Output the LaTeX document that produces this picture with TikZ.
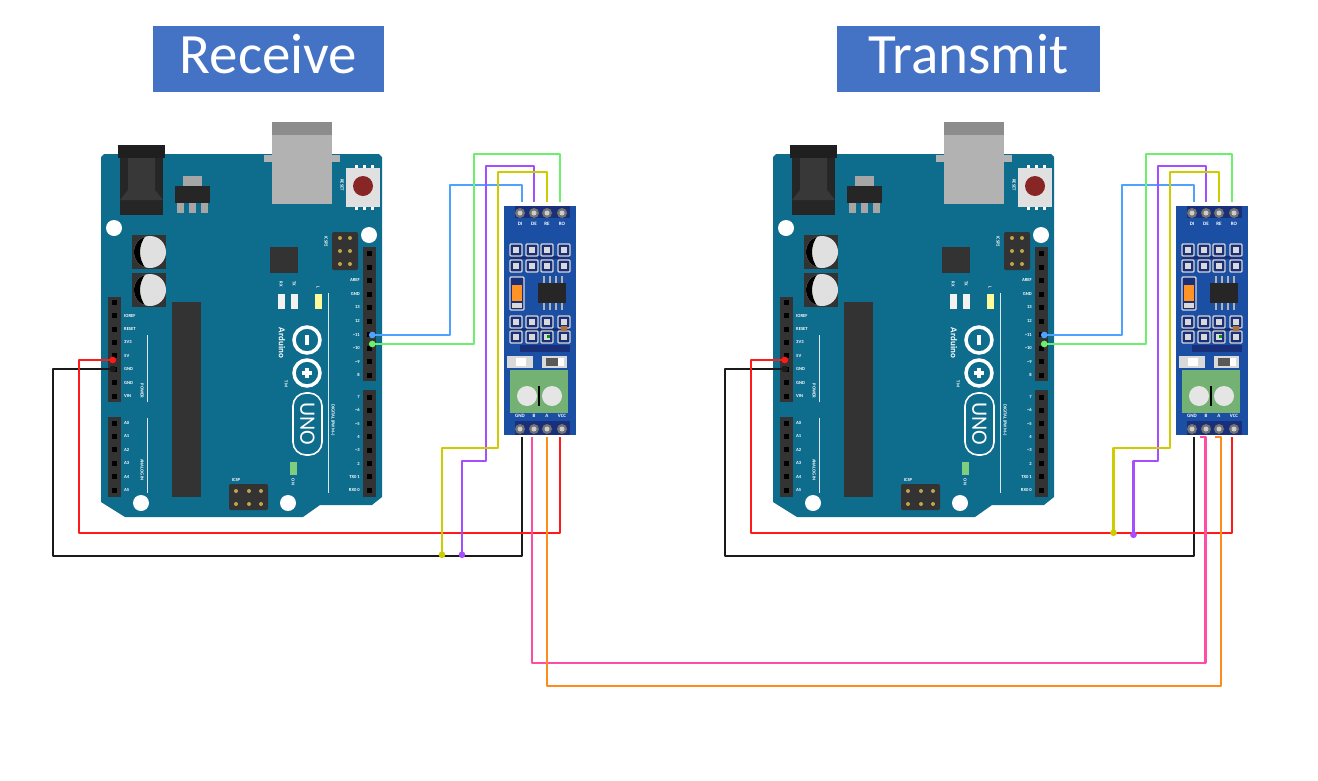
\documentclass[tikz,border=0pt]{standalone}
\usepackage{fontspec}
\setmainfont{Carlito}
\usetikzlibrary{arrows.meta}
\definecolor{boardteal}{HTML}{0E6C8D}
\definecolor{modblue}{HTML}{1B4FA3}
\definecolor{moddark}{HTML}{1A2F7A}
\definecolor{titleblue}{HTML}{4472C4}
\definecolor{headerdark}{HTML}{333333}
\definecolor{wireblue}{HTML}{4DA3FF}
\definecolor{wiregreen}{HTML}{6CF06C}
\definecolor{wirepurple}{HTML}{A64DFF}
\definecolor{wireyellow}{HTML}{CCCC00}
\definecolor{wirered}{HTML}{FF1A1A}
\definecolor{wireblack}{HTML}{1A1A1A}
\definecolor{wirepink}{HTML}{FF4DA6}
\definecolor{wireorange}{HTML}{FF8C1A}
\tikzset{
  title/.style={fill=titleblue, text=white, inner sep=0pt, text height=47pt, text depth=19pt,
    font=\fontsize{57}{60}\selectfont},
  wire/.style={line width=2.2pt, line join=round},
  dotstart/.style={{Circle[length=6.5pt, width=6.5pt]}-},
  dotend/.style={-{Circle[length=6.5pt, width=6.5pt]}},
  tiny/.style={text=white, inner sep=0pt, font=\fontsize{4.6}{5}\selectfont\bfseries},
  tinyl/.style={tiny, anchor=west},
  tinyr/.style={tiny, anchor=east},
  tinyv/.style={tiny, rotate=-90},
  modlabel/.style={text=white, inner sep=0pt, font=\fontsize{5}{5}\selectfont\bfseries},
  pads/.style={fill=moddark, draw=black!15, line width=1.2pt, rounded corners=1pt},
  pics/arduino/.style={code={
    % board
    \fill[boardteal] (104,154) -- (379,154) -- (382,157) -- (382,497) -- (372,505)
      -- (320,505) -- (303,517) -- (125,517) -- (101,502) -- (101,157) -- cycle;
    % power jack
    \fill[black!88] (118,145) rectangle (165,158);
    \fill[black!85] (120,158) rectangle (163,215);
    \fill[black!78] (128,158) -- (155,158) -- (155,190) -- (163,200) -- (120,200) -- (128,190) -- cycle;
    % usb
    \fill[black!30] (264,155) rectangle (340,162);
    \fill[black!30] (272,122) rectangle (332,204);
    \fill[black!45] (272,122) rectangle (332,135);
    % reset button
    \fill[white] (355,165) rectangle (358,210);
    \fill[white] (363,165) rectangle (366,210);
    \fill[white] (371,165) rectangle (374,210);
    \fill[black!12] (346,168) rectangle (380,207);
    \fill[red!45!black!85] (363,186) circle (10);
    \node[tinyv] (-reset) at (342,185) {RESET};
    % regulator
    \fill[black!35] (183,176) rectangle (202,187);
    \fill[black!85] (175,186) rectangle (210,203);
    \fill[black!35] (177,203) rectangle (184,213);
    \fill[black!35] (189,203) rectangle (196,213);
    \fill[black!35] (201,203) rectangle (208,213);
    % holes
    \fill[white] (114,228) circle (8);
    \fill[white] (369,235) circle (8);
    \fill[white] (141,503) circle (8);
    \fill[white] (288,503) circle (8);
    % capacitors
    \foreach \capy in {252,290} {
      \fill[headerdark] (132,\capy-17) rectangle (166,\capy+17);
      \fill[black!12] (150,\capy) circle (16);
      \begin{scope}
        \clip (150,\capy) circle (16);
        \fill[black] (130,\capy-17) -- (146,\capy-17) .. controls (138,\capy-6) and (138,\capy+6) .. (146,\capy+17) -- (130,\capy+17) -- cycle;
      \end{scope}
    }
    % chips
    \fill[headerdark] (270,247) rectangle (298,273);
    \fill[headerdark] (172,302) rectangle (201,497);
    % icsp headers
    \fill[headerdark, rounded corners=2pt] (332,232) rectangle (358,270);
    \foreach \icspy in {238,251,264} {
      \fill[black!30!yellow!50!brown] (340,\icspy) circle (2);
      \fill[black!30!yellow!50!brown] (350,\icspy) circle (2);
    }
    \node[tinyv] (-icsptwo) at (326,242) {ICSP2};
    \fill[headerdark, rounded corners=2pt] (229,484) rectangle (268,510);
    \foreach \icspx in {236,249,261} {
      \fill[black!30!yellow!50!brown] (\icspx,491) circle (2);
      \fill[black!30!yellow!50!brown] (\icspx,504) circle (2);
    }
    \node[tiny] (-icsp) at (236,480) {ICSP};
    % leds
    \fill[black!5] (278,294) rectangle (285,309);
    \fill[black!5] (291,294) rectangle (298,309);
    \fill[yellow!40] (315,294) rectangle (322,309);
    \node[tinyv] (-rx) at (281,284) {RX};
    \node[tinyv] (-tx) at (294,284) {TX};
    \node[tinyv] (-led) at (318,287) {L};
    \fill[green!60!black!50!white] (290,462) rectangle (297,475);
    \node[tinyv] (-on) at (293,482) {ON};
    % logo
    \node[tinyv, font=\fontsize{9}{9}\selectfont\bfseries] (-brand) at (282,343) {Arduino};
    \draw[white, line width=3.5pt] (307,340) circle (13);
    \draw[white, line width=3.5pt] (307,373) circle (13);
    \fill[white] (305,335) rectangle (309,345);
    \fill[white] (302,371) rectangle (312,375);
    \fill[white] (305,368) rectangle (309,378);
    \node[tinyv] (-tm) at (286,384) {TM};
    \draw[white, line width=1.6pt, rounded corners=13pt] (293,393) rectangle (322,455);
    \node[tinyv, font=\fontsize{22}{22}\selectfont] (-uno) at (307.5,424) {UNO};
    % right headers
    \fill[headerdark] (363,247) rectangle (376,381);
    \fill[headerdark] (363,390) rectangle (376,497);
    \foreach \piny in {253.5,267,280.5,294,307.5,321,334.5,348,361.5,375,397,410.3,423.6,436.9,450.2,463.5,476.8,490} {
      \fill[black] (367,\piny-2.5) rectangle (372,\piny+2.5);
    }
    \foreach \pintext/\piny in {AREF/280.5,GND/294,13/307.5,12/321,\textasciitilde11/334.5,\textasciitilde10/348,\textasciitilde9/361.5,8/375,7/397,\textasciitilde6/410.3,\textasciitilde5/423.6,4/436.9,\textasciitilde3/450.2,2/463.5,TX0 1/476.8,RX0 0/490} {
      \node[tinyr] at (360,\piny) {\pintext};
    }
    \draw[white!85!boardteal, line width=1pt] (328,293) -- (328,493);
    \node[tinyv] (-digital) at (333,420) {DIGITAL (PWM\textasciitilde)};
    % left headers
    \fill[headerdark] (108,297) rectangle (121,402);
    \fill[headerdark] (108,417) rectangle (121,497);
    \foreach \piny in {302.2,315.6,329,342.4,355.8,369.2,382.6,396,423,436.4,449.8,463.2,476.6,490} {
      \fill[black] (112,\piny-2.5) rectangle (117,\piny+2.5);
    }
    \foreach \pintext/\piny in {IOREF/315.6,RESET/329,3V3/342.4,5V/355.8,GND/369.2,GND/382.6,VIN/396,A0/423,A1/436.4,A2/449.8,A3/463.2,A4/476.6,A5/490} {
      \node[tinyl] at (124,\piny) {\pintext};
    }
    \draw[white!85!boardteal, line width=1pt] (147,335) -- (147,402);
    \draw[white!85!boardteal, line width=1pt] (147,418) -- (147,493);
    \node[tinyv] (-power) at (142,391) {POWER};
    \node[tinyv] (-analog) at (142,470) {ANALOG IN};
    % wire ends on the headers
    \coordinate (-d11) at (369,335);
    \coordinate (-d10) at (369,344);
    \coordinate (-fivev) at (116,360);
    \coordinate (-gnd) at (116,369);
  }},
  pics/rsmodule/.style={code={
    \fill[modblue] (504,206) rectangle (576,435);
    \fill[moddark] (515,206) rectangle (570,218);
    \fill[moddark] (515,421) rectangle (570,435);
    \foreach \pinx in {520,534,547,562} {
      \fill[black!55] (\pinx,213) circle (5);
      \fill[black!20] (\pinx,213) circle (2.5);
      \fill[black!55] (\pinx,429) circle (5);
      \fill[black!20] (\pinx,429) circle (2.5);
    }
    \node[modlabel] (-tdi) at (520,224) {DI};
    \node[modlabel] (-tde) at (534,224) {DE};
    \node[modlabel] (-tre) at (547,224) {RE};
    \node[modlabel] (-tro) at (562,224) {RO};
    \node[modlabel] (-tgnd) at (520,416) {GND};
    \node[modlabel] (-tb) at (534,416) {B};
    \node[modlabel] (-ta) at (547,416) {A};
    \node[modlabel] (-tvcc) at (562,416) {VCC};
    % resistors, upper and lower blocks
    \fill[moddark] (510,256) rectangle (570,259);
    \fill[moddark] (510,328) rectangle (570,331);
    \foreach \padx in {516,532,547,564} {
      \foreach \pady in {250,266,322,337} {
        \draw[pads] (\padx-6,\pady-6) rectangle (\padx+6,\pady+6);
        \fill[white!85!black] (\padx-3,\pady-3) rectangle (\padx+3,\pady+3);
      }
    }
    \fill[green!60!black] (547,335) rectangle (550,338);
    \fill[brown!90!black] (561,326) rectangle (567,331);
    % capacitor and driver chip
    \draw[pads] (510,277) rectangle (524,310);
    \fill[orange!85] (512,285) rectangle (522,301);
    \fill[white!85!black] (512,303) rectangle (522,308);
    \foreach \legx in {544,550,556,562} {
      \fill[black!30] (\legx-1,276) rectangle (\legx+1,310);
    }
    \fill[black!85] (538,283) rectangle (566,303);
    % traces and leds
    \fill[moddark] (520,345) rectangle (570,352);
    \fill[black!15] (507,356) rectangle (533,368);
    \fill[black!15] (542,356) rectangle (567,368);
    \fill[white] (516,358) rectangle (526,366);
    \fill[black!65] (546,358) rectangle (558,366);
    \fill[white] (558,358) rectangle (564,366);
    % terminal block
    \fill[green!45!black!55!white] (510,370) rectangle (568,413);
    \fill[black!10] (527,396) circle (10);
    \fill[black!10] (552,396) circle (10);
    \fill[black] (538,386) rectangle (540,406);
    % wire ends on the pins
    \coordinate (-di) at (522,202);
    \coordinate (-de) at (534,202);
    \coordinate (-re) at (547,202);
    \coordinate (-ro) at (560,202);
    \coordinate (-mgnd) at (522,437);
    \coordinate (-mb) at (532,437);
    \coordinate (-ma) at (547,437);
    \coordinate (-mvcc) at (560,437);
  }},
}
\begin{document}
\begin{tikzpicture}[x=1pt, y=-1pt]
    \useasboundingbox (0,0) rectangle (1318,780);

    \node[title, text width=231pt, align=center] (receive) at (268.5,59) {Receive};
    \node[title, text width=263pt, align=center] (transmit) at (968.5,59) {Transmit};

    \pic (rxb) at (0,0) {arduino};
    \pic (rxm) at (0,0) {rsmodule};
    \pic (txb) at (672,0) {arduino};
    \pic (txm) at (672,0) {rsmodule};

    \coordinate (rxyellow) at (442,558);
    \coordinate (rxpurple) at (462,558);
    \coordinate (txyellow) at (1113.5,536);
    \coordinate (txpurple) at (1133.5,538);
    \coordinate (txhookb) at (1200,437);
    \coordinate (txhooka) at (1215,437);

    % receive side
    \draw[wire, wireblack, dotstart] (rxb-gnd) -- (53,369) -- (53,556) -- (522,556) -- (rxm-mgnd);
    \draw[wire, wirered, dotstart] (rxb-fivev) -- (79,360) -- (79,533) -- (560,533) -- (rxm-mvcc);
    \draw[wire, wireblue, dotstart] (rxb-d11) -- (450,335) -- (450,185) -- (522,185) -- (rxm-di);
    \draw[wire, wiregreen, dotstart] (rxb-d10) -- (474,344) -- (474,154) -- (560,154) -- (rxm-ro);
    \draw[wire, wirepurple, dotend] (rxm-de) -- (534,166) -- (486,166) -- (486,461) -- (462,461) -- (rxpurple);
    \draw[wire, wireyellow, dotend] (rxm-re) -- (547,172) -- (498,172) -- (498,448) -- (442,448) -- (rxyellow);

    % transmit side
    \draw[wire, wireblack, dotstart] (txb-gnd) -- (725,369) -- (725,556) -- (1194,556) -- (txm-mgnd);
    \draw[wire, wirered, dotstart] (txb-fivev) -- (751,360) -- (751,533) -- (1232,533) -- (txm-mvcc);
    \draw[wire, wireblue, dotstart] (txb-d11) -- (1122,335) -- (1122,185) -- (1194,185) -- (txm-di);
    \draw[wire, wiregreen, dotstart] (txb-d10) -- (1146,344) -- (1146,154) -- (1232,154) -- (txm-ro);
    \draw[wire, wirepurple, dotend] (txm-de) -- (1206,166) -- (1158,166) -- (1158,461) -- (1133.5,461) -- (txpurple);
    \draw[wire, wireyellow, dotend] (txm-re) -- (1219,172) -- (1170,172) -- (1170,448) -- (1113.5,448) -- (txyellow);

    % bus between the modules
    \draw[wire, wirepink] (rxm-mb) -- (532,663) -- (1205.5,663) -- (1205.5,437) -- (txhookb);
    \draw[wire, wireorange] (rxm-ma) -- (547,686) -- (1221,686) -- (1221,437) -- (txhooka);
\end{tikzpicture}
\end{document}
